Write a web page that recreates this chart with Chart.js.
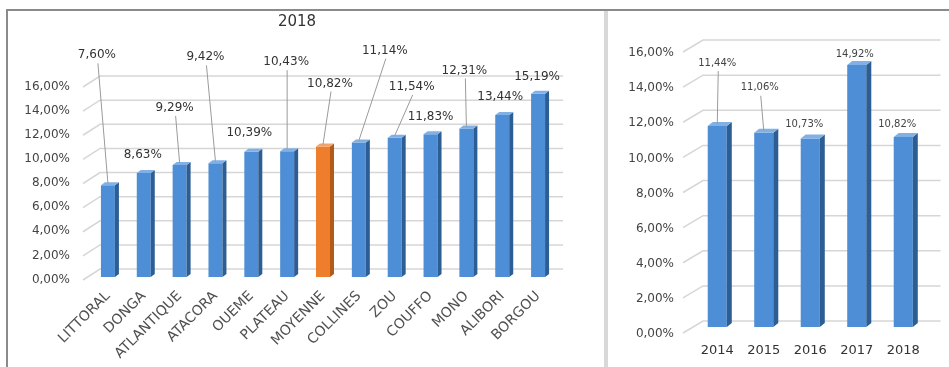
<!DOCTYPE html>
<html>
<head>
<meta charset="utf-8">
<script src="https://cdn.jsdelivr.net/npm/chart.js@4/dist/chart.umd.min.js"></script>
<style>
  html,body{margin:0;padding:0;background:#fff;width:949px;height:367px;overflow:hidden;position:relative;}
  canvas{position:absolute;top:0;}
  #c1{left:0;}
  #c2{left:608px;}
  .ln{position:absolute;z-index:5;}
</style>
</head>
<body>
<canvas id="c1" width="604" height="367"></canvas>
<canvas id="c2" width="341" height="367"></canvas>
<div class="ln" style="left:6px;top:9px;width:943px;height:2px;background:#8a8a8a"></div>
<div class="ln" style="left:6px;top:9px;width:2px;height:358px;background:#8a8a8a"></div>
<div class="ln" style="left:604px;top:11px;width:4px;height:356px;background:#d8d8d8"></div>
<script>
// ---- data ----
const departements = ['LITTORAL','DONGA','ATLANTIQUE','ATACORA','OUEME','PLATEAU','MOYENNE','COLLINES','ZOU','COUFFO','MONO','ALIBORI','BORGOU'];
const tauxDepartements = [7.60, 8.63, 9.29, 9.42, 10.39, 10.43, 10.82, 11.14, 11.54, 11.83, 12.31, 13.44, 15.19];
const annees = ['2014','2015','2016','2017','2018'];
const tauxAnnees = [11.44, 11.06, 10.73, 14.92, 10.82];
const yTicks = [0, 2, 4, 6, 8, 10, 12, 14, 16];
const titreGauche = '2018';

// ---- label placement (pixel offsets from bar top) & leader flags ----
const leftLabelOffsets = [[-11,-130],[-1,-18],[-5,-57],[-10,-106],[-2,-19],[-1,-89],[7,-63],[26,-92],[17,-51],[0,-17],[-2,-58],[-2,-18],[-1,-17]];
const leftLeaders = [true,false,true,true,false,true,true,true,true,false,true,false,false];
const rightLabelOffsets = [[0,-63],[-4,-45],[-6,-14],[-2,-11],[-6,-13]];
const rightLeaders = [true,true,false,false,false];

const highlightIndex = departements.indexOf('MOYENNE');
const BLUE = {front:'#4d8ed6', side:'#2c5d93', top:'#80b0e4'};
const ORANGE = {front:'#ee7e2c', side:'#b45a18', top:'#f4a468'};
const FONT = "'DejaVu Sans', sans-serif";
const fmt = v => v.toFixed(2).replace('.', ',') + '%';

const grid3d = {
  id:'grid3d',
  beforeDatasetsDraw(chart, args, o){
    const {ctx, chartArea:a} = chart; const ys = chart.scales.y;
    ctx.save();
    ctx.strokeStyle = '#d6d6d6'; ctx.lineWidth = 1.5;
    yTicks.forEach(v=>{
      const p = ys.getPixelForValue(v);
      ctx.beginPath();
      ctx.moveTo(a.left + o.x0, p + o.y0);
      ctx.lineTo(a.left + o.x1, p + o.y1);
      ctx.lineTo(a.right + o.x2, p + o.y1);
      ctx.stroke();
    });
    ctx.restore();
  }
};

const bar3d = {
  id:'bar3d',
  afterDatasetsDraw(chart, args, o){
    const ctx = chart.ctx; const meta = chart.getDatasetMeta(0);
    ctx.save();
    meta.data.forEach((b,i)=>{
      const pal = o.palette(i);
      const w = b.width, x0 = b.x - w/2, x1 = b.x + w/2, y = b.y, base = b.base;
      const d = o.dx, e = o.dy;
      ctx.fillStyle = pal.side;
      ctx.beginPath();
      ctx.moveTo(x1, y); ctx.lineTo(x1+d, y-e); ctx.lineTo(x1+d, base-e); ctx.lineTo(x1, base); ctx.closePath(); ctx.fill();
      ctx.fillStyle = pal.top;
      ctx.beginPath();
      ctx.moveTo(x0, y); ctx.lineTo(x0+d, y-e); ctx.lineTo(x1+d, y-e); ctx.lineTo(x1, y); ctx.closePath(); ctx.fill();
    });
    ctx.restore();
  }
};

const labels3d = {
  id:'labels3d',
  afterDraw(chart, args, o){
    const ctx = chart.ctx; const meta = chart.getDatasetMeta(0);
    const vals = chart.data.datasets[0].data;
    ctx.save();
    ctx.font = o.font; ctx.textAlign = 'center'; ctx.textBaseline = 'middle';
    meta.data.forEach((b,i)=>{
      const lx = b.x + o.offsets[i][0], ly = b.y + o.offsets[i][1];
      if (o.leaders[i]) {
        ctx.strokeStyle = '#9a9a9a'; ctx.lineWidth = 1;
        ctx.beginPath(); ctx.moveTo(lx + 1, ly + 8); ctx.lineTo(b.x, b.y - 2); ctx.stroke();
      }
      ctx.fillStyle = o.color;
      ctx.fillText(fmt(vals[i]), lx, ly);
    });
    if (o.title) {
      ctx.font = "15px " + FONT; ctx.fillStyle = '#333';
      ctx.fillText(o.title, o.titleX, o.titleY);
    }
    ctx.restore();
  }
};

// ---- left chart ----
new Chart(document.getElementById('c1'), {
  type:'bar',
  data:{ labels: departements, datasets:[{ data: tauxDepartements,
    backgroundColor: departements.map((_,i)=> i===highlightIndex ? ORANGE.front : BLUE.front),
    barPercentage:0.39, categoryPercentage:1 }]},
  options:{
    responsive:false, animation:false, devicePixelRatio:1,
    layout:{ padding:{ left:0, right:48, top:84, bottom:0 } },
    plugins:{ legend:{display:false}, tooltip:{enabled:false}, title:{display:false},
      grid3d:{ x0:-7, y0:3, x1:10, y1:-8, x2:7 },
      bar3d:{ dx:4, dy:3, palette:i=> i===highlightIndex ? ORANGE : BLUE },
      labels3d:{ font:"12px " + FONT, color:'#333', offsets:leftLabelOffsets, leaders:leftLeaders, title:titreGauche, titleX:297, titleY:22 }
    },
    scales:{
      x:{ grid:{display:false, drawTicks:false}, border:{display:false},
        ticks:{ color:'#505050', font:{family:FONT, size:14}, minRotation:45, maxRotation:45, padding:11, autoSkip:false },
        afterFit:s=>{ s.height = 90; } },
      y:{ min:0, max:16, grid:{display:false, drawTicks:false}, border:{display:false},
        afterBuildTicks:s=>{ s.ticks = yTicks.map(v=>({value:v})); },
        ticks:{ color:'#444', font:{family:FONT, size:12}, padding:20, labelOffset:2.5, callback:v=>fmt(v) },
        afterFit:s=>{ s.width = 90; } }
    }
  },
  plugins:[grid3d, bar3d, labels3d]
});

// ---- right chart ----
new Chart(document.getElementById('c2'), {
  type:'bar',
  data:{ labels: annees, datasets:[{ data: tauxAnnees, backgroundColor: BLUE.front,
    barPercentage:0.41, categoryPercentage:1 }]},
  options:{
    responsive:false, animation:false, devicePixelRatio:1,
    layout:{ padding:{ left:0, right:22.5, top:46, bottom:0 } },
    plugins:{ legend:{display:false}, tooltip:{enabled:false}, title:{display:false},
      grid3d:{ x0:-11, y0:6, x1:9, y1:-6, x2:14 },
      bar3d:{ dx:5, dy:4, palette:()=>BLUE },
      labels3d:{ font:"10px " + FONT, color:'#444', offsets:rightLabelOffsets, leaders:rightLeaders }
    },
    scales:{
      x:{ grid:{display:false, drawTicks:false}, border:{display:false},
        ticks:{ color:'#333', font:{family:FONT, size:13}, padding:16, maxRotation:0 },
        afterFit:s=>{ s.height = 40; } },
      y:{ min:0, max:16, grid:{display:false, drawTicks:false}, border:{display:false},
        afterBuildTicks:s=>{ s.ticks = yTicks.map(v=>({value:v})); },
        ticks:{ color:'#444', font:{family:FONT, size:12}, padding:20, labelOffset:7, callback:v=>fmt(v) },
        afterFit:s=>{ s.width = 86; } }
    }
  },
  plugins:[grid3d, bar3d, labels3d]
});
</script>
</body>
</html>
